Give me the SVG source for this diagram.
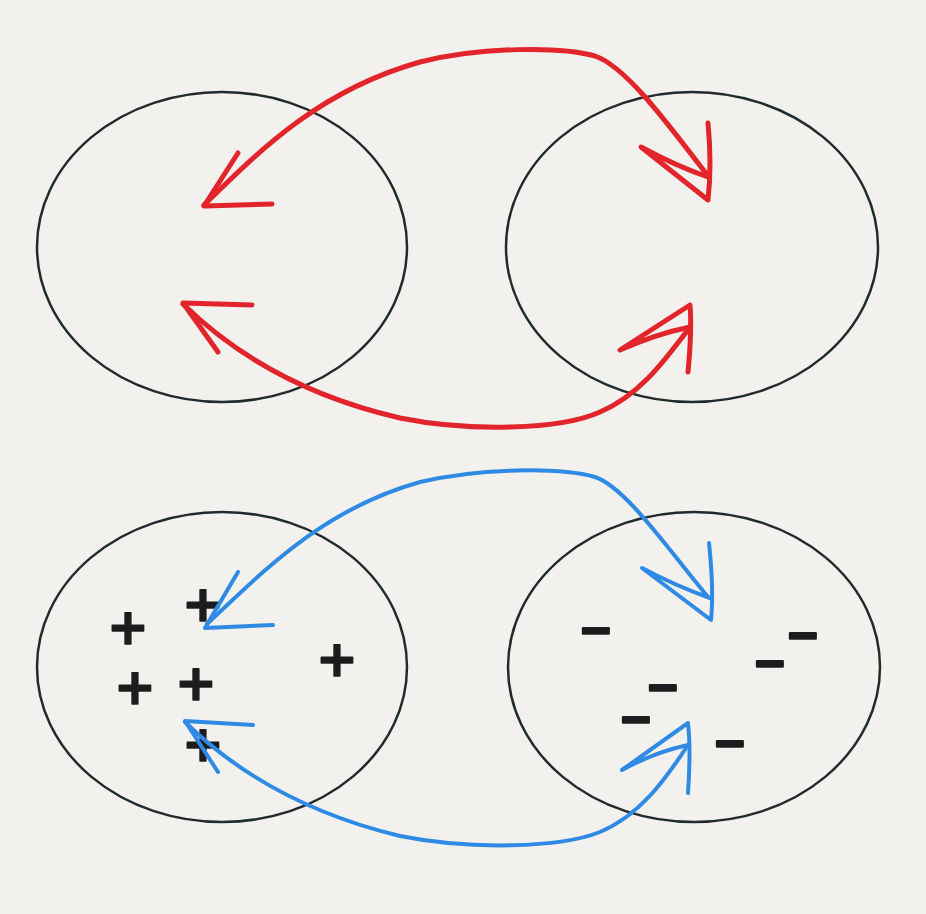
<svg xmlns="http://www.w3.org/2000/svg" width="926" height="914" viewBox="0 0 926 914">
<style>
.bg{fill:#f3f1ee}
.node{fill:none;stroke:#1f2b2e;stroke-width:2.5}
.red{fill:none;stroke:#e2242b;stroke-width:5;stroke-linecap:round;stroke-linejoin:round}
.blue{fill:none;stroke:#2e8ae4;stroke-width:4;stroke-linecap:round;stroke-linejoin:round}
.plus{font-family:"DejaVu Sans",sans-serif;font-weight:bold;font-size:50px;fill:#1c1c1e;stroke:#1c1c1e;stroke-width:1.5;stroke-linejoin:round;text-anchor:middle}
.minus{font-family:"Liberation Sans",Arial,sans-serif;font-weight:bold;font-size:52px;fill:#1c1c1e;stroke:#1c1c1e;stroke-width:2;stroke-linejoin:round;text-anchor:middle}
</style>
<rect class="bg" x="0" y="0" width="926" height="914"/>
<g id="top-left"><ellipse class="node" cx="222" cy="247" rx="185" ry="155"/></g>
<g id="top-right"><ellipse class="node" cx="692" cy="247" rx="186" ry="155"/></g>
<g id="bottom-left">
<ellipse class="node" cx="222" cy="667" rx="185" ry="155"/>
<text class="plus" x="203" y="621">+</text>
<text class="plus" x="128" y="644">+</text>
<text class="plus" x="337" y="676">+</text>
<text class="plus" x="135" y="704">+</text>
<text class="plus" x="196" y="700">+</text>
<text class="plus" x="203" y="761">+</text>
</g>
<g id="bottom-right">
<ellipse class="node" cx="694" cy="667" rx="186" ry="155"/>
<text class="minus" x="596" y="648">−</text>
<text class="minus" x="803" y="653">−</text>
<text class="minus" x="770" y="681">−</text>
<text class="minus" x="663" y="705">−</text>
<text class="minus" x="636" y="737">−</text>
<text class="minus" x="730" y="761">−</text>
</g>
<g id="connectors">
<path class="red" d="M204,205 C260,150 320,90 420,62 C480,47 560,46 595,56 C625,66 665,120 708,176"/>
<path class="red" d="M238,153 L204,206 L272,204"/>
<path class="red" d="M708,123 Q712,165 708,200 L641,147 Q676,166 708,177"/>
<path class="red" d="M183,304 C230,350 300,395 400,418 C470,432 560,430 600,412 C640,395 665,360 690,327"/>
<path class="red" d="M252,305 L183,303 L218,352"/>
<path class="red" d="M688,372 Q692,330 690,305 L620,350 Q656,334 690,327"/>
<path class="blue" d="M207,624 C260,575 320,510 420,482 C480,468 560,467 595,477 C625,487 665,545 708,597"/>
<path class="blue" d="M238,572 L205,628 L273,625"/>
<path class="blue" d="M709,543 Q714,590 711,620 L642,568 Q676,586 710,598"/>
<path class="blue" d="M185,722 C232,768 300,812 400,836 C470,850 560,848 600,832 C640,815 665,780 688,745"/>
<path class="blue" d="M253,725 L185,721 L218,772"/>
<path class="blue" d="M688,793 Q691,750 688,723 L622,770 Q655,752 688,745"/>
</g>
</svg>
